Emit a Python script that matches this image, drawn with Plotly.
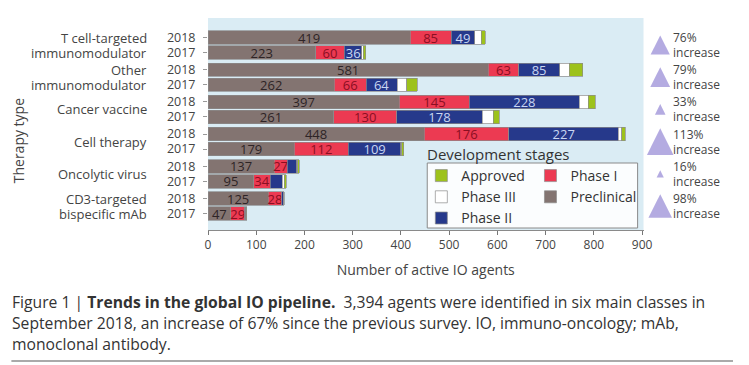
import plotly.graph_objects as go

# ---------------- data ----------------
groups = ["T cell-targeted<br>immunomodulator", "Other<br>immunomodulator", "Cancer vaccine",
          "Cell therapy", "Oncolytic virus", "CD3-targeted<br>bispecific mAb"]
years = ["2018", "2017"]

preclinical_2018 = [419, 581, 397, 448, 137, 125]
preclinical_2017 = [223, 262, 261, 179, 95, 47]
phase1_2018 = [85, 63, 145, 176, 27, 28]
phase1_2017 = [60, 66, 130, 112, 34, 29]
phase2_2018 = [49, 85, 228, 227, 20, 3]
phase2_2017 = [36, 64, 178, 109, 25, 2]
phase3_2018 = [14, 20, 18, 7, 2, 1]
phase3_2017 = [3, 20, 22, 2, 4, 1]
approved_2018 = [8, 28, 15, 7, 3, 1]
approved_2017 = [5, 22, 13, 4, 4, 1]

increase_pct = [76, 79, 33, 113, 16, 98]
x_ticks = [0, 100, 200, 300, 400, 500, 600, 700, 800, 900]

caption_lines = [
    "Figure 1 | <b>Trends in the global IO pipeline.</b>  3,394 agents were identified in six main classes in",
    "September 2018, an increase of 67% since the previous survey. IO, immuno-oncology; mAb,",
    "monoclonal antibody.",
]

# ---------------- layout helpers ----------------
FONT = "Open Sans"
W, H = 749, 365
ML, MR, MT, MB = 208, 8, 18, 135
PW, PH = W - ML - MR, H - MT - MB
MAIN_RIGHT = 651  # px where the bar panel ends
UNIT = 15.0  # px per y unit
Y_MAX = PH / UNIT
centers = [1.8 + i * 2.147 for i in range(len(groups))]
y18 = [c - 0.5 for c in centers]
y17 = [c + 0.5 for c in centers]
ypos = []
for a, b in zip(y18, y17):
    ypos += [a, b]


def interleave(a, b):
    out = []
    for u, v in zip(a, b):
        out += [u, v]
    return out


def py(p):  # pixel y -> paper y
    return (MT + PH - p) / PH


def px(p):  # pixel x -> paper x
    return (p - ML) / PW


# name, 2018, 2017, colour, label colour, label threshold, legend, rank
stages = [
    ("Preclinical", preclinical_2018, preclinical_2017, "#837471", "#2e2426", 0, "legend2", 2),
    ("Phase I", phase1_2018, phase1_2017, "#ec3a52", "#8a0f22", 0, "legend2", 1),
    ("Phase II", phase2_2018, phase2_2017, "#26398b", "#c9d6f2", 30, "legend", 3),
    ("Phase III", phase3_2018, phase3_2017, "#ffffff", "#333333", 10**9, "legend", 2),
    ("Approved", approved_2018, approved_2017, "#9dc21b", "#333333", 10**9, "legend", 1),
]

fig = go.Figure()
for name, v18, v17, col, tcol, thr, leg, rank in stages:
    vals = interleave(v18, v17)
    txt = [str(v) if v >= thr else "" for v in vals]
    fig.add_trace(go.Bar(
        x=vals, y=ypos, orientation="h", name=name, width=0.89,
        marker=dict(color=col, line=dict(color="#8c8c8c", width=0.7)),
        text=txt, textposition="inside", insidetextanchor="middle", textangle=0,
        constraintext="none", cliponaxis=False,
        textfont=dict(family=FONT, size=13, color=tcol),
        legend=leg, legendrank=rank, hoverinfo="x+name",
    ))

# increase arrowheads (size scaled by percentage) in a side panel
sizes = [4 + 0.2 * p for p in increase_pct]
fig.add_trace(go.Scatter(
    x=[17] * len(groups),
    y=[c - (s / 2) / UNIT for c, s in zip(centers, sizes)],
    xaxis="x2", yaxis="y",
    mode="markers", showlegend=False, hoverinfo="skip",
    marker=dict(symbol="arrow-up", size=sizes, color="#9488d4", line=dict(width=0)),
))

annotations = []
shapes = [dict(type="rect", xref="x domain", yref="y domain", x0=0, x1=1, y0=0, y1=1,
               fillcolor="#daecf4", line=dict(width=0), layer="below")]
for i, g in enumerate(groups):
    parts = g.split("<br>")
    if len(parts) == 2:
        for t, yy in zip(parts, [y18[i], y17[i]]):
            annotations.append(dict(x=0, xref="x", y=yy, yref="y", text=t, showarrow=False,
                                    xanchor="right", yanchor="middle", xshift=-59,
                                    font=dict(family=FONT, size=13, color="#444")))
    else:
        annotations.append(dict(x=0, xref="x", y=centers[i], yref="y", text=g, showarrow=False,
                                xanchor="right", yanchor="middle", xshift=-59,
                                font=dict(family=FONT, size=13, color="#444")))
    top, bot = y18[i] - 0.62, y17[i] + 0.5
    shapes.append(dict(
        type="path", xref="x", yref="y", xsizemode="pixel", xanchor=0,
        path=f"M-48,{top} Q-54,{top} -54,{top + 0.45} L-54,{bot - 0.45} Q-54,{bot} -48,{bot}",
        line=dict(color="#777", width=1),
    ))
    annotations.append(dict(x=px(679), xref="paper", y=y18[i], yref="y", text=f"{increase_pct[i]}%",
                            showarrow=False, xanchor="left", yanchor="middle",
                            font=dict(family=FONT, size=12, color="#444")))
    annotations.append(dict(x=px(679), xref="paper", y=y17[i], yref="y", text="increase",
                            showarrow=False, xanchor="left", yanchor="middle",
                            font=dict(family=FONT, size=12, color="#444")))

# axis title (y)
annotations.append(dict(x=px(15), y=py(141), xref="paper", yref="paper", text="Therapy type",
                        textangle=-90, showarrow=False, xanchor="center", yanchor="middle",
                        font=dict(family=FONT, size=14, color="#444")))
# legend title
annotations.append(dict(x=px(429), y=py(154), xref="paper", yref="paper", text="Development stages",
                        xanchor="left", yanchor="middle", showarrow=False,
                        font=dict(family=FONT, size=15, color="#333")))
# caption
for t, yy in zip(caption_lines, [302, 323, 344]):
    annotations.append(dict(x=px(7), y=py(yy), xref="paper", yref="paper", text=t,
                            xanchor="left", yanchor="middle", showarrow=False,
                            font=dict(family=FONT, size=15.7, color="#333")))

# legend box
shapes.append(dict(type="rect", xref="paper", yref="paper", x0=px(431), x1=px(645),
                   y0=py(228), y1=py(163), fillcolor="#fbfdfe",
                   line=dict(color="#8a8a8a", width=1), layer="above"))
shapes.append(dict(type="line", xref="paper", yref="paper", x0=px(8), x1=px(742),
                   y0=py(361), y1=py(361), line=dict(color="#aaa", width=2)))

leg_common = dict(xanchor="left", yanchor="top", bgcolor="rgba(0,0,0,0)", borderwidth=0,
                  font=dict(family=FONT, size=14, color="#333"), traceorder="normal",
                  tracegroupgap=0)

fig.update_layout(
    width=W, height=H, margin=dict(l=ML, r=MR, t=MT, b=MB),
    paper_bgcolor="white", plot_bgcolor="white",
    barmode="stack", font=dict(family=FONT, color="#444"),
    annotations=annotations, shapes=shapes,
    legend=dict(x=px(425), y=py(160), **leg_common),
    legend2=dict(x=px(536), y=py(160), **leg_common),
    xaxis=dict(domain=[0, (MAIN_RIGHT - ML) / PW], range=[0, 903], tickvals=x_ticks,
               ticks="outside", ticklen=4, tickcolor="#777",
               showline=True, linecolor="#8a8a8a", showgrid=False, zeroline=False,
               tickfont=dict(family=FONT, size=12, color="#444"),
               title=dict(text="Number of active IO agents", standoff=12,
                          font=dict(family=FONT, size=14, color="#444"))),
    xaxis2=dict(domain=[(MAIN_RIGHT - ML) / PW, 1], range=[0, W - MR - MAIN_RIGHT], anchor="y",
                visible=False, showgrid=False, zeroline=False, fixedrange=True),
    yaxis=dict(range=[Y_MAX, 0], tickvals=ypos, ticktext=years * len(groups),
               ticks="outside", ticklen=4, tickcolor="#999", showgrid=False, zeroline=False,
               showline=False, ticklabelstandoff=5,
               tickfont=dict(family=FONT, size=12.5, color="#444")),
)

fig.write_html("out.html", config={"displayModeBar": False},
               post_script="document.body.style.margin='0';")
